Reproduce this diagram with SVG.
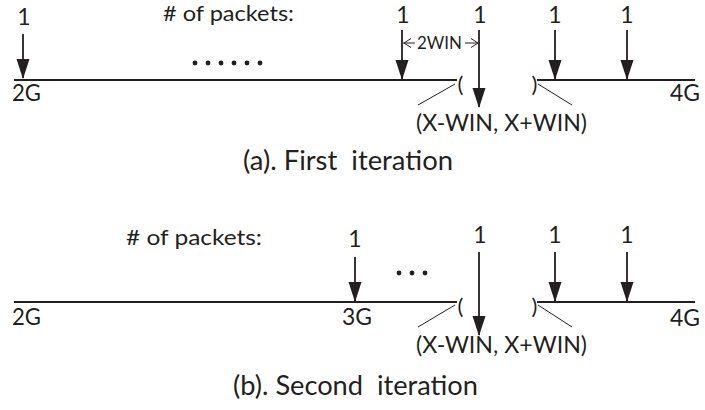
<svg xmlns="http://www.w3.org/2000/svg" width="705" height="410" viewBox="0 0 705 410">
<style>
text{font-family:Lato,"Liberation Sans",Arial,sans-serif;fill:#231f20}
.lbl{font-size:21px}
.num{font-size:23px;text-anchor:middle}
.end{font-size:23.5px}
.par{font-size:22px}
.rng{font-size:23.5px}
.ttl{font-size:26px;white-space:pre}
.axis{stroke:#231f20;stroke-width:2;fill:none}
.arr{stroke:#231f20;stroke-width:1.8;fill:none;marker-end:url(#ah)}
.thin{stroke:#231f20;stroke-width:1;fill:none}
.dot{fill:#231f20}
</style>
<defs>
<marker id="ah" markerUnits="userSpaceOnUse" viewBox="0 -7 20 14" refX="19" refY="0" markerWidth="20" markerHeight="14" orient="auto">
<path d="M0,-6.5 L20,0 L0,6.5 z" fill="#231f20"/>
</marker>
</defs>
<g id="connectors">
<line class="axis" x1="14" y1="80" x2="457" y2="80"/>
<line class="axis" x1="537" y1="80" x2="695" y2="80"/>
<line class="arr" x1="23" y1="34" x2="23" y2="78"/>
<line class="arr" x1="402" y1="30" x2="402" y2="79"/>
<line class="arr" x1="479" y1="30" x2="479" y2="107"/>
<line class="arr" x1="555" y1="30" x2="555" y2="79"/>
<line class="arr" x1="627" y1="30" x2="627" y2="79"/>
<line class="thin" x1="455" y1="84" x2="418" y2="105"/>
<line class="thin" x1="538" y1="84" x2="572" y2="105"/>
<line class="thin" x1="403" y1="43" x2="415" y2="43"/>
<polyline class="thin" points="411,38.5 404,43 411,47.5"/>
<line class="thin" x1="465" y1="43" x2="478" y2="43"/>
<polyline class="thin" points="471,38.5 478,43 471,47.5"/>
<line class="axis" x1="14" y1="302" x2="457" y2="302"/>
<line class="axis" x1="537" y1="302" x2="695" y2="302"/>
<line class="arr" x1="355" y1="257" x2="355" y2="301"/>
<line class="arr" x1="479" y1="252" x2="479" y2="335"/>
<line class="arr" x1="555" y1="252" x2="555" y2="301"/>
<line class="arr" x1="627" y1="252" x2="627" y2="301"/>
<line class="thin" x1="455" y1="305" x2="418" y2="327"/>
<line class="thin" x1="538" y1="305" x2="572" y2="327"/>
</g>
<g id="first-iteration">
<text class="lbl" x="163" y="21" textLength="131" lengthAdjust="spacingAndGlyphs"># of packets:</text>
<text class="num" x="24" y="25">1</text>
<text class="num" x="403" y="23">1</text>
<text class="num" x="480" y="23">1</text>
<text class="num" x="555" y="23">1</text>
<text class="num" x="627" y="23">1</text>
<g class="dot"><circle cx="195" cy="63" r="2.4"/><circle cx="208" cy="63" r="2.4"/><circle cx="221" cy="63" r="2.4"/><circle cx="234" cy="63" r="2.4"/><circle cx="247" cy="63" r="2.4"/><circle cx="260" cy="63" r="2.4"/></g>
<text x="417" y="49" style="font-size:17px" textLength="45" lengthAdjust="spacingAndGlyphs">2WIN</text>
<text class="end" x="12" y="101" textLength="29" lengthAdjust="spacingAndGlyphs">2G</text>
<text class="end" x="670" y="101" textLength="30" lengthAdjust="spacingAndGlyphs">4G</text>
<text class="par" x="457.5" y="92">(</text>
<text class="par" x="531.5" y="92">)</text>
<text class="rng" x="416" y="131" textLength="171" lengthAdjust="spacingAndGlyphs">(X-WIN, X+WIN)</text>
<text class="ttl" x="243" y="170" textLength="210" lengthAdjust="spacingAndGlyphs">(a). First  iteration</text>
</g>
<g id="second-iteration">
<text class="lbl" x="126" y="245" textLength="136" lengthAdjust="spacingAndGlyphs"># of packets:</text>
<text class="num" x="355" y="247">1</text>
<text class="num" x="480" y="243">1</text>
<text class="num" x="555" y="243">1</text>
<text class="num" x="627" y="243">1</text>
<g class="dot"><circle cx="399" cy="273" r="2.4"/><circle cx="412" cy="273" r="2.4"/><circle cx="425" cy="273" r="2.4"/></g>
<text class="end" x="12" y="325" textLength="29" lengthAdjust="spacingAndGlyphs">2G</text>
<text class="end" x="342" y="325" textLength="30" lengthAdjust="spacingAndGlyphs">3G</text>
<text class="end" x="670" y="326" textLength="30" lengthAdjust="spacingAndGlyphs">4G</text>
<text class="par" x="457.5" y="314">(</text>
<text class="par" x="531.5" y="314">)</text>
<text class="rng" x="416" y="353" textLength="171" lengthAdjust="spacingAndGlyphs">(X-WIN, X+WIN)</text>
<text class="ttl" x="233" y="395" textLength="245" lengthAdjust="spacingAndGlyphs">(b). Second  iteration</text>
</g>
</svg>
